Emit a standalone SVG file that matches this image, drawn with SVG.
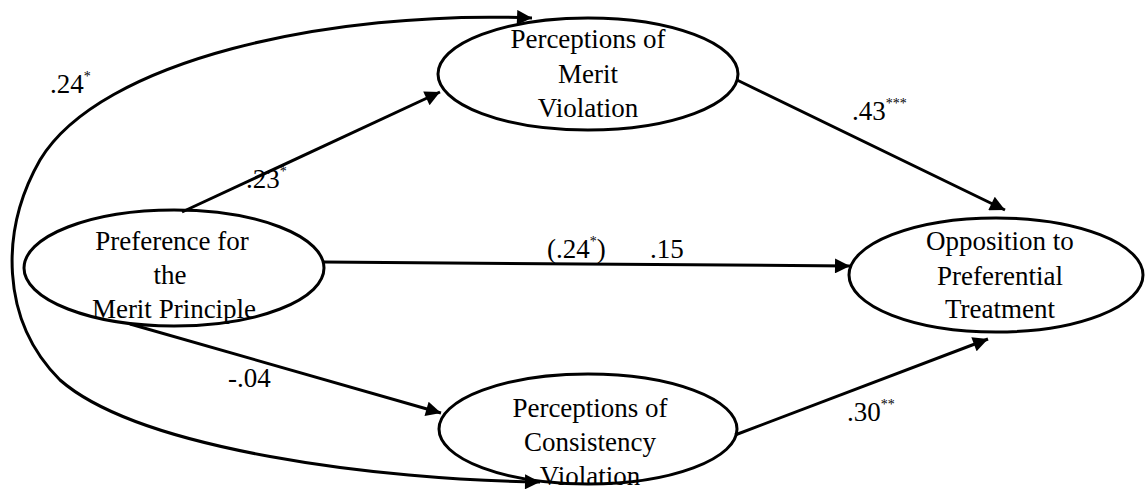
<svg xmlns="http://www.w3.org/2000/svg" width="1148" height="489" viewBox="0 0 1148 489">
<style>
.node{fill:#fff;stroke:#000;stroke-width:3}
.lbl{font-family:"Liberation Serif","Times New Roman",serif;font-size:27px;fill:#000;text-anchor:middle}
.num{font-family:"Liberation Serif","Times New Roman",serif;font-size:27px;fill:#000}
.sup{font-size:14px}
.edge{fill:none;stroke:#000;stroke-width:3}
</style>
<defs>
<marker id="arr" viewBox="0 0 10 10" refX="10" refY="5" markerWidth="6" markerHeight="5" markerUnits="strokeWidth" orient="auto-start-reverse">
<path d="M0,0 L10,5 L0,10 z" fill="#000"/>
</marker>
</defs>
<g id="n-merit-principle">
<ellipse class="node" cx="174" cy="268" rx="150" ry="58"/>
<text class="lbl" x="172" y="250">Preference for</text>
<text class="lbl" x="170" y="284">the</text>
<text class="lbl" x="174" y="318">Merit Principle</text>
</g>
<g id="n-merit-violation">
<ellipse class="node" cx="588" cy="74" rx="150" ry="56"/>
<text class="lbl" x="588" y="48">Perceptions of</text>
<text class="lbl" x="588" y="83">Merit</text>
<text class="lbl" x="588" y="117">Violation</text>
</g>
<g id="n-opposition">
<ellipse class="node" cx="996" cy="275" rx="147" ry="57"/>
<text class="lbl" x="1000" y="250">Opposition to</text>
<text class="lbl" x="1000" y="285">Preferential</text>
<text class="lbl" x="1000" y="318">Treatment</text>
</g>
<g id="n-consistency">
<ellipse class="node" cx="588" cy="429" rx="149" ry="55"/>
<text class="lbl" x="590" y="417">Perceptions of</text>
<text class="lbl" x="590" y="451">Consistency</text>
<text class="lbl" x="590" y="485">Violation</text>
</g>
<g id="connectors">
<path class="edge" marker-end="url(#arr)" d="M182,212 L440,92"/>
<path class="edge" marker-end="url(#arr)" d="M737,80 L1005,210"/>
<path class="edge" marker-end="url(#arr)" d="M323,262 L850,266"/>
<path class="edge" marker-end="url(#arr)" d="M130,324 L441,413"/>
<path class="edge" marker-end="url(#arr)" d="M735,435 L988,339"/>
<path class="edge" marker-start="url(#arr)" marker-end="url(#arr)" d="M532,18 C330,10 100,60 40,160 C0,230 0,320 60,380 C140,450 380,480 540,482"/>
</g>
<g id="labels">
<text class="num" x="50" y="93">.24<tspan class="sup" dy="-12">*</tspan></text>
<text class="num" x="246" y="188">.23<tspan class="sup" dy="-12">*</tspan></text>
<text class="num" x="852" y="120">.43<tspan class="sup" dy="-12">***</tspan></text>
<text class="num" x="547" y="258">(.24<tspan class="sup" dy="-12">*</tspan><tspan dy="12">)</tspan></text>
<text class="num" x="650" y="258">.15</text>
<text class="num" x="228" y="387">-.04</text>
<text class="num" x="847" y="421">.30<tspan class="sup" dy="-12">**</tspan></text>
</g>
</svg>
